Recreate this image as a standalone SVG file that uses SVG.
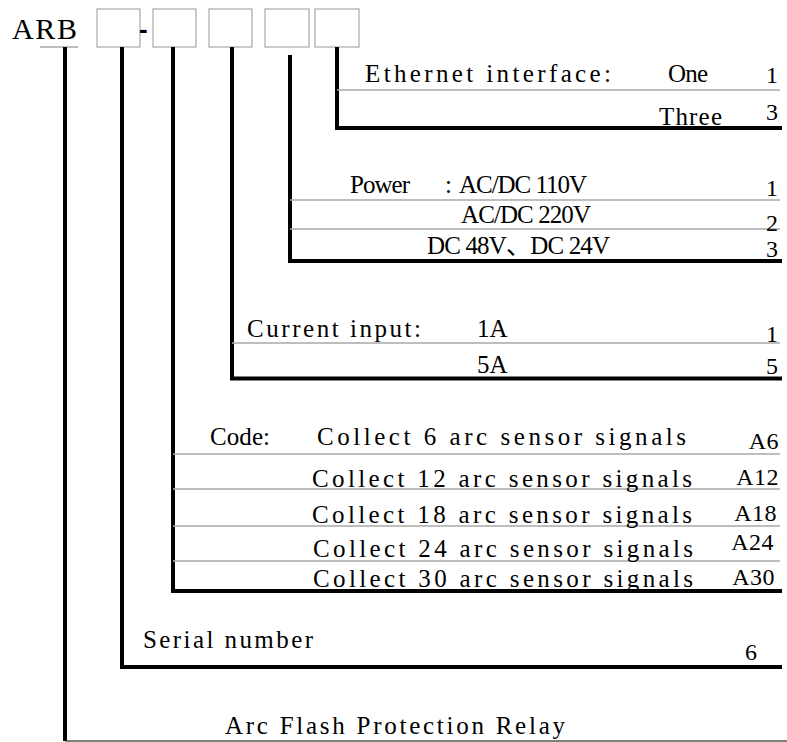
<svg xmlns="http://www.w3.org/2000/svg" width="787" height="742" viewBox="0 0 787 742">
<style>
.m{font-family:"Liberation Serif","Noto Sans CJK SC",serif;font-size:25px;fill:#000}
.s{font-family:"Liberation Serif","Times New Roman",serif;font-size:24px;fill:#000}
.e{text-anchor:end}
.c{letter-spacing:0.5px}
.box{fill:#fff;stroke:#a8a8a8;stroke-width:1.2}
.thin{stroke:#a8a8a8;stroke-width:1.3;fill:none}
.thick{stroke:#000;stroke-width:4;fill:none;stroke-linejoin:miter}
</style>
<rect width="787" height="742" fill="#fff"/>
<g id="header">
  <text class="s" x="12" y="38.6" style="font-size:30px" textLength="65">ARB</text>
  <line class="thin" x1="40" y1="47" x2="78" y2="47"/>
  <g id="box1"><rect class="box" x="97" y="9" width="43" height="38"/></g>
  <text x="139" y="38" style="font-family:'Liberation Sans',sans-serif;font-weight:bold;font-size:26px">-</text>
  <g id="box2"><rect class="box" x="153" y="9" width="43" height="38"/></g>
  <g id="box3"><rect class="box" x="209" y="9" width="43" height="38"/></g>
  <g id="box4"><rect class="box" x="265" y="9" width="44" height="38"/></g>
  <g id="box5"><rect class="box" x="315" y="9" width="44" height="38"/></g>
</g>
<g id="connectors">
  <path class="thick" d="M337 47 V128 H782"/>
  <path class="thick" d="M290 55 V261 H782"/>
  <path class="thick" d="M232 47 V378.5 H782"/>
  <path class="thick" d="M173 47 V591 H782"/>
  <path class="thick" d="M122 47 V667 H782"/>
  <path class="thick" d="M65 47 V741"/>
  <line x1="65" y1="741" x2="787" y2="741" stroke="#555" stroke-width="1.5"/>
</g>
<g id="ethernet">
  <line class="thin" x1="337" y1="90" x2="780" y2="90"/>
  <text class="m" x="365" y="82" textLength="246">Ethernet interface:</text>
  <text class="m" x="668" y="82" textLength="40">One</text>
  <text class="s e" x="778" y="83">1</text>
  <text class="m" x="659" y="125" textLength="63">Three</text>
  <text class="s e" x="778" y="120">3</text>
</g>
<g id="power">
  <line class="thin" x1="290" y1="200" x2="780" y2="200"/>
  <line class="thin" x1="290" y1="229" x2="780" y2="229"/>
  <text class="m" x="350" y="193" textLength="60">Power</text>
  <text class="m" x="445" y="193">:</text>
  <text class="m" x="459" y="193" textLength="128">AC/DC 110V</text>
  <text class="s e" x="778" y="196">1</text>
  <text class="m" x="461" y="223" textLength="130">AC/DC 220V</text>
  <text class="s e" x="778" y="231">2</text>
  <text class="m" x="427" y="254" textLength="183">DC 48V、DC 24V</text>
  <text class="s e" x="778" y="257">3</text>
</g>
<g id="current">
  <line class="thin" x1="232" y1="343" x2="780" y2="343"/>
  <text class="m" x="247" y="337" textLength="174">Current input:</text>
  <text class="s" x="477" y="337" style="font-size:25px">1A</text>
  <text class="s e" x="778" y="342">1</text>
  <text class="s" x="477" y="373" style="font-size:25px">5A</text>
  <text class="s e" x="778" y="374">5</text>
</g>
<g id="code">
  <line class="thin" x1="173" y1="454" x2="780" y2="454"/>
  <line class="thin" x1="173" y1="489" x2="780" y2="489"/>
  <line class="thin" x1="173" y1="526" x2="780" y2="526"/>
  <line class="thin" x1="173" y1="561" x2="780" y2="561"/>
  <text class="m" x="210" y="445" textLength="60">Code:</text>
  <text class="m" x="317" y="445" textLength="369">Collect 6 arc sensor signals</text>
  <text class="s e c" x="779" y="449">A6</text>
  <text class="m" x="312" y="487" textLength="380">Collect 12 arc sensor signals</text>
  <text class="s e c" x="779" y="485">A12</text>
  <text class="m" x="312" y="523" textLength="380">Collect 18 arc sensor signals</text>
  <text class="s e c" x="777" y="521">A18</text>
  <text class="m" x="313" y="557" textLength="380">Collect 24 arc sensor signals</text>
  <text class="s e c" x="774" y="550">A24</text>
  <text class="m" x="313" y="587" textLength="380">Collect 30 arc sensor signals</text>
  <text class="s e c" x="775" y="585">A30</text>
</g>
<g id="serial">
  <text class="m" x="143" y="648" textLength="170">Serial number</text>
  <text class="s e" x="757" y="660">6</text>
</g>
<g id="product">
  <text class="m" x="225" y="734" textLength="340">Arc Flash Protection Relay</text>
</g>
</svg>
